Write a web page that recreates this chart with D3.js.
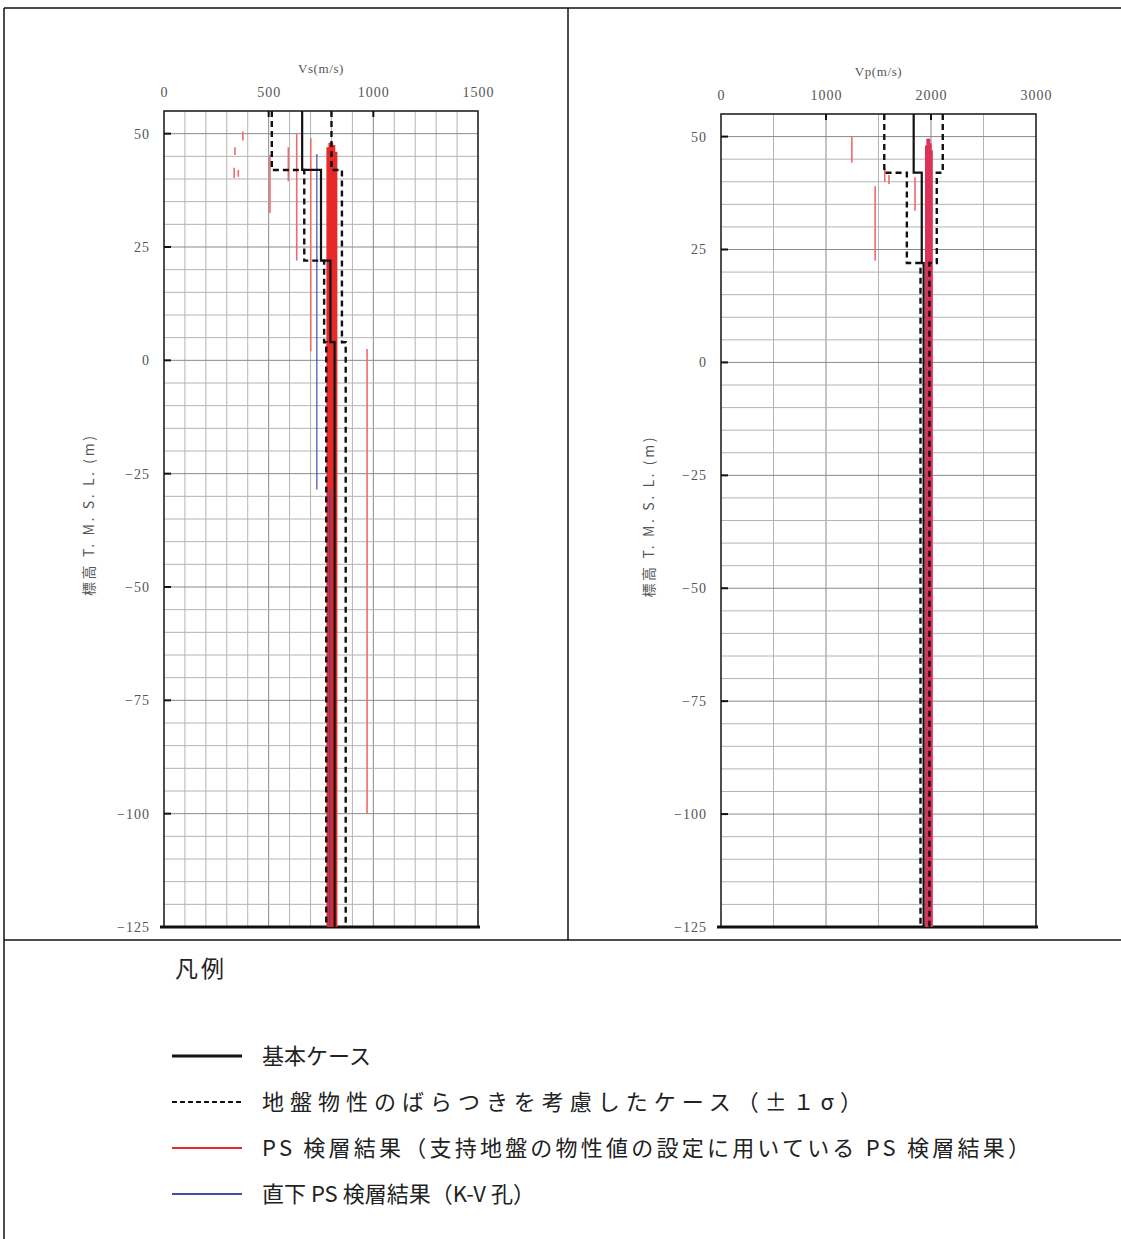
<!DOCTYPE html>
<html><head><meta charset="utf-8">
<script src="https://cdn.jsdelivr.net/npm/d3@7"></script>
<style>body{margin:0;background:#fff}</style>
</head><body><svg id="c" width="1121" height="1239"></svg>
<script>
// ---------- data ----------
const depthTicks = [50, 25, 0, -25, -50, -75, -100, -125];
const vsTicks = [0, 500, 1000, 1500];
const vpTicks = [0, 1000, 2000, 3000];

// Vs layered model (depth boundaries, base case, -1σ, +1σ)
const vsLayerBounds = [55, 42, 22, 4, -125];
const vsBase  = [660, 750, 795, 815];
const vsMinus = [515, 670, 765, 775];
const vsPlus  = [800, 850, 850, 868];

// Vp layered model
const vpLayerBounds = [55, 42, 22, -125];
const vpBase  = [1835, 1912, 1930];
const vpMinus = [1555, 1770, 1900];
const vpPlus  = [2112, 2055, 1985];

// PS logging results (red) – value, top depth, bottom depth
const vsPsValue  = [506, 594, 634, 701, 970, 377, 339, 335, 355];
const vsPsTop    = [45.3, 47, 50, 49, 2.5, 50.5, 47, 42.5, 42];
const vsPsBottom = [32.5, 39.5, 22, 2, -100, 48.5, 45.3, 40.2, 40.5];
// thick PS bundle (red)
const vsPsBundleValue  = [782, 792, 802, 812, 822];
const vsPsBundleTop    = [47, 48, 48, 47.5, 46];
const vsPsBundleBottom = [-125, -125, -125, -125, -125];

// K-V hole (blue)
const vsKvValue  = [730, 792];
const vsKvTop    = [45.5, -28.5];
const vsKvBottom = [-28.5, -125];

const vpPsValue  = [1246, 1468, 1848, 1560, 1600];
const vpPsTop    = [50, 39, 41, 43, 41.5];
const vpPsBottom = [44.2, 22.5, 33.6, 40, 39.5];
const vpPsBundleValue  = [1955, 1968, 1981, 1994, 2005];
const vpPsBundleTop    = [48, 49.5, 49.5, 48.5, 47];
const vpPsBundleBottom = [-125, -125, -125, -125, -125];

const legendTitle = "凡例";
const legendLabels = [
  "基本ケース",
  "地盤物性のばらつきを考慮したケース（±１σ）",
  "PS 検層結果（支持地盤の物性値の設定に用いている PS 検層結果）",
  "直下 PS 検層結果（K-V 孔）"
];
const legendStyles = ["base", "sigma", "ps", "kv"];

// ---------- drawing ----------
const svg = d3.select('#c');
svg.append('rect').attr('width', 1121).attr('height', 1239).attr('fill', '#fff');

const RED = '#e52a2a', RED_LIGHT = '#ef6a6a', BLUE = '#3f4fae';
const SERIF = 'Liberation Serif';

function profile(bounds, vals) {
  const pts = [];
  vals.forEach((v, i) => { pts.push([v, bounds[i]]); pts.push([v, bounds[i + 1]]); });
  return pts;
}

function drawChart(o) {
  const x = d3.scaleLinear().domain(o.xDomain).range(o.xRange);
  const y = d3.scaleLinear().domain([55, -125]).range(o.yRange);
  const g = svg.append('g');
  const [x0, x1] = o.xRange, [y0, y1] = o.yRange;

  // grid
  const vgrid = d3.range(o.xDomain[0] + o.xStep, o.xDomain[1], o.xStep);
  g.selectAll('.vg').data(vgrid).join('line')
    .attr('x1', d => x(d)).attr('x2', d => x(d)).attr('y1', y0).attr('y2', y1)
    .attr('stroke', d => o.ticks.includes(d) ? '#8a8a8a' : '#b4b4b4').attr('stroke-width', 1);
  const hgrid = d3.range(-120, 55, 5);
  g.selectAll('.hg').data(hgrid).join('line')
    .attr('x1', x0).attr('x2', x1).attr('y1', d => y(d)).attr('y2', d => y(d))
    .attr('stroke', d => depthTicks.includes(d) ? '#8a8a8a' : '#b4b4b4').attr('stroke-width', 1);

  // frame
  g.append('rect').attr('x', x0).attr('y', y0).attr('width', x1 - x0).attr('height', y1 - y0)
    .attr('fill', 'none').attr('stroke', '#222').attr('stroke-width', 1.6);
  g.append('line').attr('x1', x0 - 4).attr('x2', x1 + 2).attr('y1', y1).attr('y2', y1)
    .attr('stroke', '#111').attr('stroke-width', 3);

  // inward tick marks
  g.selectAll('.yt').data(depthTicks).join('line')
    .attr('x1', x0).attr('x2', x0 + 7).attr('y1', d => y(d)).attr('y2', d => y(d))
    .attr('stroke', '#111').attr('stroke-width', 2);
  g.selectAll('.xt').data(o.ticks.slice(1, -1)).join('line')
    .attr('x1', d => x(d)).attr('x2', d => x(d)).attr('y1', y0).attr('y2', y0 + 6)
    .attr('stroke', '#111').attr('stroke-width', 2);

  // axes labels
  const ax = d3.axisTop(x).tickValues(o.ticks).tickSize(0).tickPadding(0).tickFormat(d3.format('d'));
  const axg = g.append('g').attr('transform', `translate(0,${o.xLabelY})`).call(ax);
  axg.select('.domain').remove();
  axg.selectAll('text').attr('font-family', SERIF).attr('font-size', 14)
    .attr('letter-spacing', 1).attr('fill', '#555');

  const ay = d3.axisLeft(y).tickValues(depthTicks).tickSize(0).tickPadding(0).tickFormat(d3.format('d'));
  const ayg = g.append('g').attr('transform', `translate(${o.yLabelX},0)`).call(ay);
  ayg.select('.domain').remove();
  ayg.selectAll('text').attr('font-family', SERIF).attr('font-size', 14)
    .attr('letter-spacing', 1).attr('fill', '#555');

  g.append('text').attr('x', (x0 + x1) / 2).attr('y', o.titleY).attr('text-anchor', 'middle')
    .attr('font-family', SERIF).attr('font-size', 13).attr('letter-spacing', 0.6)
    .attr('fill', '#555').text(o.title);
  g.append('text').attr('transform', `translate(${o.yTitleX},${(y0 + y1) / 2 - 3}) rotate(-90)`)
    .attr('text-anchor', 'middle').attr('font-family', 'Noto Sans CJK JP').attr('font-size', 14)
    .attr('textLength', 160).attr('lengthAdjust', 'spacing')
    .attr('fill', '#555').text('標高 T. M. S. L. (m)');

  const clip = g.append('g');
  const seg = (vals, tops, bots, color, w, op) => {
    clip.selectAll(null).data(vals.map((v, i) => [v, tops[i], bots[i]])).join('line')
      .attr('x1', d => x(d[0])).attr('x2', d => x(d[0]))
      .attr('y1', d => y(d[1])).attr('y2', d => y(d[2]))
      .attr('stroke', color).attr('stroke-width', w).attr('opacity', op);
  };
  seg(o.psV, o.psT, o.psB, RED_LIGHT, 1.6, 1);
  seg(o.bV, o.bT, o.bB, o.bandColor, 2.6, 1);
  if (o.kvV) seg(o.kvV, o.kvT, o.kvB, BLUE, 1.6, 0.75);

  const line = d3.line().x(d => x(d[0])).y(d => y(d[1]));
  clip.append('path').attr('d', line(profile(o.bounds, o.minus))).attr('fill', 'none')
    .attr('stroke', '#111').attr('stroke-width', 2.4).attr('stroke-dasharray', '6,4');
  clip.append('path').attr('d', line(profile(o.bounds, o.plus))).attr('fill', 'none')
    .attr('stroke', '#111').attr('stroke-width', 2.4).attr('stroke-dasharray', '6,4');
  clip.append('path').attr('d', line(profile(o.bounds, o.base))).attr('fill', 'none')
    .attr('stroke', '#111').attr('stroke-width', 2.2);
}

drawChart({
  xDomain: [0, 1500], xRange: [164, 478], yRange: [111, 927], xStep: 100, ticks: vsTicks,
  xLabelY: 97, yLabelX: 150, titleY: 73, yTitleX: 94, title: 'Vs(m/s)',
  bounds: vsLayerBounds, base: vsBase, minus: vsMinus, plus: vsPlus,
  psV: vsPsValue, psT: vsPsTop, psB: vsPsBottom,
  bV: vsPsBundleValue, bT: vsPsBundleTop, bB: vsPsBundleBottom, bandColor: RED,
  kvV: vsKvValue, kvT: vsKvTop, kvB: vsKvBottom
});
drawChart({
  xDomain: [0, 3000], xRange: [721, 1036], yRange: [114, 927], xStep: 500, ticks: vpTicks,
  xLabelY: 100, yLabelX: 707, titleY: 76, yTitleX: 654, title: 'Vp(m/s)',
  bounds: vpLayerBounds, base: vpBase, minus: vpMinus, plus: vpPlus,
  psV: vpPsValue, psT: vpPsTop, psB: vpPsBottom,
  bV: vpPsBundleValue, bT: vpPsBundleTop, bB: vpPsBundleBottom, bandColor: '#dc3358'
});

// table borders
const T = svg.append('g').attr('stroke', '#111').attr('stroke-width', 1.5);
T.append('line').attr('x1', 4).attr('x2', 1121).attr('y1', 8).attr('y2', 8);
T.append('line').attr('x1', 4).attr('x2', 4).attr('y1', 8).attr('y2', 1239);
T.append('line').attr('x1', 568).attr('x2', 568).attr('y1', 8).attr('y2', 940);
T.append('line').attr('x1', 4).attr('x2', 1121).attr('y1', 940).attr('y2', 940);

// legend
const legendTextWidths = [null, 600, 768, null];
const L = svg.append('g');
L.append('text').attr('x', 175).attr('y', 977).attr('font-family', 'Noto Sans CJK JP')
  .attr('font-size', 23).attr('letter-spacing', 3).attr('fill', '#222').text(legendTitle);
const legendY = d3.scalePoint().domain(legendLabels).range([1056, 1194]);
legendLabels.forEach((lab, i) => {
  const yy = legendY(lab);
  const st = legendStyles[i];
  L.append('line').attr('x1', 172).attr('x2', 242).attr('y1', yy).attr('y2', yy)
    .attr('stroke', st === 'ps' ? RED : st === 'kv' ? BLUE : '#111')
    .attr('stroke-width', st === 'base' ? 3 : 2)
    .attr('stroke-dasharray', st === 'sigma' ? '5,3' : null);
  const t = L.append('text').attr('x', 262).attr('y', yy + 8).attr('font-family', 'Noto Sans CJK JP')
    .attr('font-size', 22).attr('fill', '#222').text(lab);
  if (legendTextWidths[i]) t.attr('textLength', legendTextWidths[i]).attr('lengthAdjust', 'spacing');
});
</script></body></html>
